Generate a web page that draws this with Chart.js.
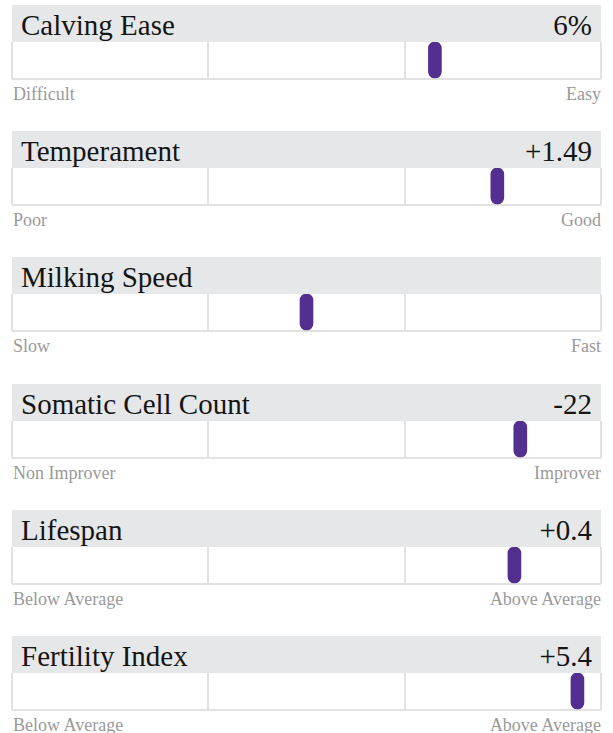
<!DOCTYPE html>
<html>
<head>
<meta charset="utf-8">
<script src="https://cdn.jsdelivr.net/npm/chart.js@4"></script>
<style>
  body { margin: 0; background: #fff; font-family: "Liberation Serif", "DejaVu Serif", serif; }
  #wrap { position: relative; width: 613px; height: 733px; overflow: hidden; }
  .panel { position: absolute; left: 0; width: 613px; height: 120px; }
  .head { position: absolute; left: 12px; top: 0; width: 589px; height: 37px; background: #e6e7e8;
          font-size: 29px; line-height: 37px; color: #151515; }
  .head .t { position: absolute; left: 9px; top: 2px; }
  .head .v { position: absolute; right: 9px; top: 2px; }
  .box { position: absolute; left: 11px; top: 36px; }
  .labels { position: absolute; left: 13px; top: 79px; width: 588px; font-size: 18px; line-height: 20px; color: #9a9a9a; }
  .labels .r { position: absolute; right: 0; top: 0; }
</style>
</head>
<body>
<div id="wrap"></div>
<script>
// trait names and the values printed in each header
const traits = ["Calving Ease", "Temperament", "Milking Speed", "Somatic Cell Count", "Lifespan", "Fertility Index"];
const values = ["6%", "+1.49", "", "-22", "+0.4", "+5.4"];
// marker position on a 0-100 scale (left = low end, right = high end)
const positions = [71.8, 82.4, 50.0, 86.3, 85.3, 96.0];
const lowLabels = ["Difficult", "Poor", "Slow", "Non Improver", "Below Average", "Below Average"];
const highLabels = ["Easy", "Good", "Fast", "Improver", "Above Average", "Above Average"];
const cellTicks = [0, 100 / 3, 200 / 3, 100];

const markerColor = "#53308f";
const lineColor = "#e2e2e2";

const wrap = document.getElementById("wrap");

traits.forEach((name, i) => {
  const panel = document.createElement("div");
  panel.className = "panel";
  panel.style.top = (5 + i * 126.2) + "px";
  panel.innerHTML =
    '<div class="head"><span class="t">' + name + '</span><span class="v">' + values[i] + '</span></div>' +
    '<div class="box"><canvas width="591" height="39"></canvas></div>' +
    '<div class="labels"><span>' + lowLabels[i] + '</span><span class="r">' + highLabels[i] + '</span></div>';
  wrap.appendChild(panel);

  const ctx = panel.querySelector("canvas");
  new Chart(ctx, {
    type: "bar",
    data: {
      datasets: [{
        data: [{ x: positions[i], y: [0, 1] }],
        backgroundColor: markerColor,
        barThickness: 13,
        borderRadius: 7,
        borderSkipped: false,
      }],
    },
    options: {
      responsive: false,
      animation: false,
      layout: { padding: { left: 1, right: 1, top: 1, bottom: 1 } },
      plugins: { legend: { display: false }, tooltip: { enabled: false } },
      scales: {
        x: {
          type: "linear",
          min: 0,
          max: 100,
          offset: false,
          afterBuildTicks: (s) => { s.ticks = cellTicks.map((v) => ({ value: v })); },
          ticks: { display: false },
          grid: { offset: false, color: lineColor, lineWidth: 2, drawTicks: false },
          border: { display: false },
        },
        y: {
          min: 0,
          max: 1,
          offset: false,
          afterBuildTicks: (s) => { s.ticks = [{ value: 0 }]; },
          ticks: { display: false },
          grid: { offset: false, color: lineColor, lineWidth: 2, drawTicks: false },
          border: { display: false },
        },
      },
    },
  });
});
</script>
</body>
</html>
